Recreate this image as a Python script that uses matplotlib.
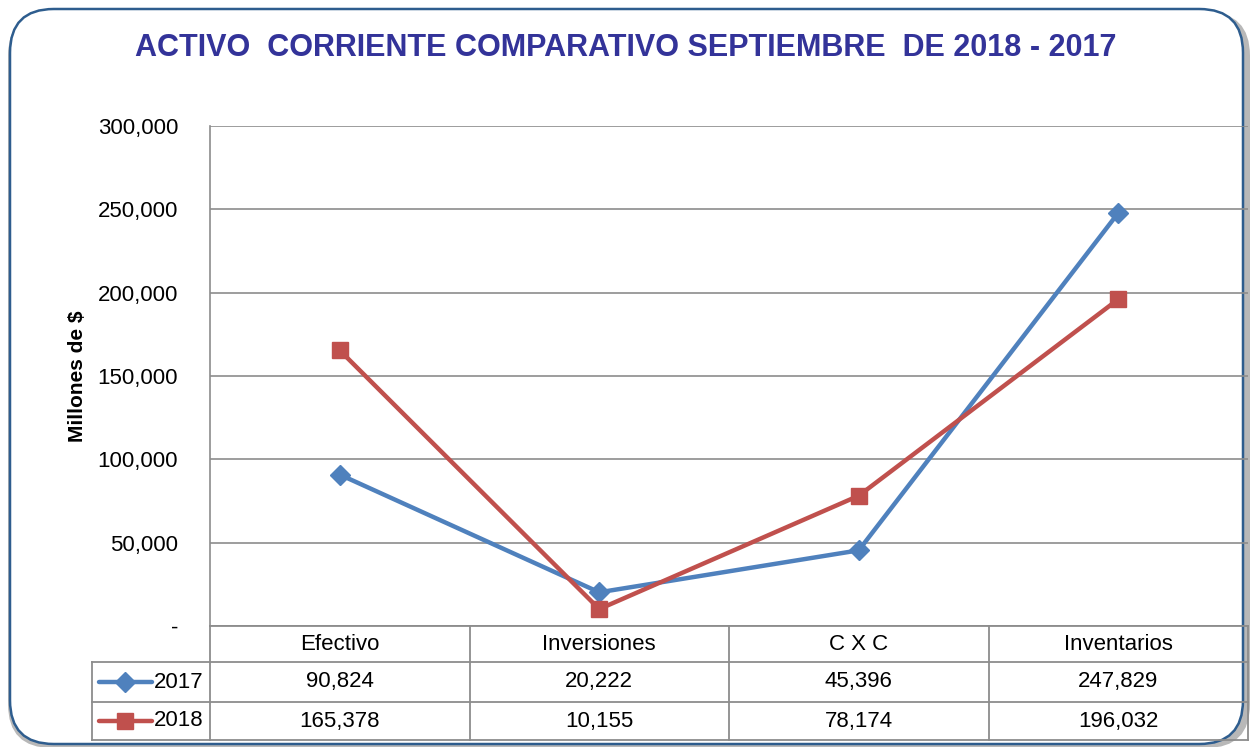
import matplotlib.pyplot as plt
from matplotlib.patches import FancyBboxPatch
from matplotlib.lines import Line2D

categories = ["Efectivo", "Inversiones", "C X C", "Inventarios"]
years = ["2017", "2018"]
values_2017 = [90824, 20222, 45396, 247829]
values_2018 = [165378, 10155, 78174, 196032]
yticks = [0, 50000, 100000, 150000, 200000, 250000, 300000]
colors = ["#4F81BD", "#C0504D"]
markers = ["D", "s"]

plt.rcParams['font.family'] = ['Liberation Sans Narrow', 'Liberation Sans', 'DejaVu Sans']

W, H = 1251, 747
fig = plt.figure(figsize=(W / 100, H / 100), dpi=100)

def fx(px):
    return px / W

def fy(py):
    return 1 - py / H

# frame with shadow
shadow = FancyBboxPatch((fx(8), fy(748)), fx(1242), fy(12) - fy(748),
                        boxstyle="round,pad=0,rounding_size=0.035",
                        transform=fig.transFigure, facecolor="#b8b8b8",
                        edgecolor="none", zorder=0, mutation_aspect=W / H)
fig.patches.append(shadow)
frame = FancyBboxPatch((fx(10), fy(744)), fx(1233), fy(9) - fy(744),
                       boxstyle="round,pad=0,rounding_size=0.035",
                       transform=fig.transFigure, facecolor="white",
                       edgecolor="#2E5D8E", linewidth=1.8, zorder=1,
                       mutation_aspect=W / H)
fig.patches.append(frame)

left, right, top, bottom = 210, 1248, 126, 626
ax = fig.add_axes([fx(left), fy(bottom), fx(right - left), fy(top) - fy(bottom)])
ax.set_zorder(2)
ax.patch.set_alpha(0)

x = list(range(len(categories)))
for vals, yr, c, m, ms in zip([values_2017, values_2018], years, colors, markers, [10, 12]):
    ax.plot(x, vals, color=c, lw=3.2, marker=m, markersize=ms,
            markeredgecolor=c, markerfacecolor=c, label=yr, zorder=3,
            solid_capstyle='round')

ax.set_xlim(-0.5, len(categories) - 0.5)
ax.set_ylim(0, 300000)
ax.set_yticks(yticks)
ax.set_yticklabels(["-" if v == 0 else f"{v:,}" for v in yticks], fontsize=16)
ax.tick_params(axis='y', length=0, pad=23)
ax.set_xticks([])
ax.grid(axis='y', color="#8c8c8c", lw=1.2)
for s in ["top", "right", "bottom"]:
    ax.spines[s].set_visible(False)
ax.spines["left"].set_color("#8c8c8c")
ax.spines["left"].set_linewidth(1.2)
ax.set_ylabel("Millones de $", fontsize=15, fontweight='bold',
              family=['Liberation Sans', 'DejaVu Sans'])
ax.yaxis.set_label_coords((87 - left) / (right - left), 0.5)

fig.text(0.5, fy(48), "ACTIVO  CORRIENTE COMPARATIVO SEPTIEMBRE  DE 2018 - 2017",
         ha='center', va='center', fontsize=22, fontweight='bold', color="#333399",
         family=['Liberation Sans Narrow', 'Liberation Sans'])

# data table
gc = "#8c8c8c"
row_y = [626, 662, 702, 740]
col_x = [left + (right - left) * i / len(categories) for i in range(len(categories) + 1)]
tleft = 92

def hline(y, x0, x1):
    fig.add_artist(Line2D([fx(x0), fx(x1)], [fy(y), fy(y)], color=gc, lw=1.3,
                          transform=fig.transFigure, zorder=3))

def vline(xp, y0, y1):
    fig.add_artist(Line2D([fx(xp), fx(xp)], [fy(y0), fy(y1)], color=gc, lw=1.3,
                          transform=fig.transFigure, zorder=3))

hline(row_y[0], left, right)
for yv in row_y[1:]:
    hline(yv, tleft, right)
for xp in col_x:
    vline(xp, row_y[0], row_y[-1])
vline(tleft, row_y[1], row_y[-1])

for i, cat in enumerate(categories):
    cx = (col_x[i] + col_x[i + 1]) / 2
    fig.text(fx(cx), fy((row_y[0] + row_y[1]) / 2), cat, ha='center', va='center',
             fontsize=16, zorder=4)
    for r, vals in enumerate([values_2017, values_2018]):
        fig.text(fx(cx), fy((row_y[r + 1] + row_y[r + 2]) / 2), f"{vals[i]:,}",
                 ha='center', va='center', fontsize=16, zorder=4)

for r, (yr, c, m, ms) in enumerate(zip(years, colors, markers, [10, 12])):
    yc = fy((row_y[r + 1] + row_y[r + 2]) / 2)
    fig.add_artist(Line2D([fx(99), fx(152)], [yc, yc], color=c, lw=3.2,
                          transform=fig.transFigure, zorder=4, solid_capstyle='round'))
    fig.add_artist(Line2D([fx(125)], [yc], color=c, marker=m, markersize=ms,
                          linestyle='none', transform=fig.transFigure, zorder=5))
    fig.text(fx(154), yc, yr, ha='left', va='center', fontsize=16, zorder=4)

fig.savefig("out.png", dpi=100)
